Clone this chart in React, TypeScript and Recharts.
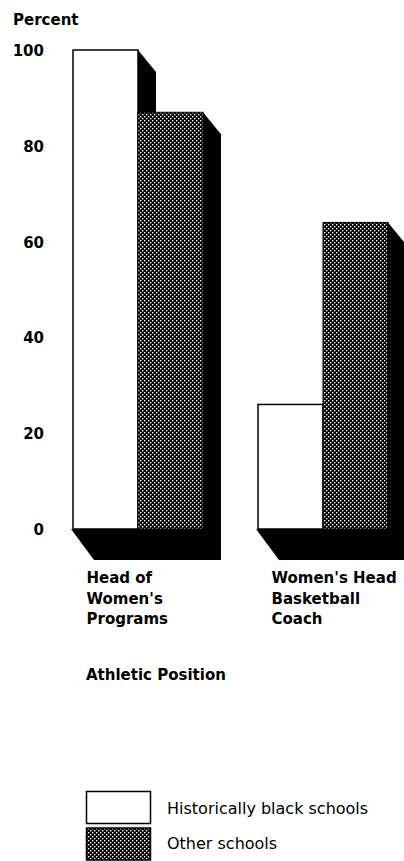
import React from 'react';
import { BarChart, Bar, XAxis, YAxis, Legend, Label } from 'recharts';

// ---- data ----
const categories = ["Head of\nWomen's\nPrograms", "Women's Head\nBasketball\nCoach"];
const historicallyBlack = [100, 26];
const otherSchools = [87, 64];
const yTicks = [0, 20, 40, 60, 80, 100];
const seriesNames = ['Historically black schools', 'Other schools'];
const yTitle = 'Percent';
const xTitle = 'Athletic Position';

const data = categories.map((c, i) => ({
  category: c,
  hbcu: historicallyBlack[i],
  other: otherSchools[i],
}));

const FONT = '"DejaVu Sans", sans-serif';

// 3D offsets
const SDX = 18;
const SDY = 22;
const FDX = 22;
const FDY = 31;

const XTick = (props: any) => {
  const { x, y, payload } = props;
  const lines = String(payload.value).split('\n');
  return (
    <g>
      {lines.map((l: string, i: number) => (
        <text key={i} x={x - 51} y={y + 54 + i * 20.5} fontFamily={FONT} fontWeight={700} fontSize={15} fill="#000" textAnchor="start">
          {l}
        </text>
      ))}
    </g>
  );
};

const YTick = (props: any) => {
  const { x, y, payload } = props;
  return (
    <text x={x} y={y + 6} fontFamily={FONT} fontWeight={700} fontSize={15} fill="#000" textAnchor="end">
      {payload.value}
    </text>
  );
};

const WhiteShape = (props: any) => {
  const { x, y, width, height } = props;
  const B = y + height;
  const R = x + width;
  const R2 = x + 2 * width;
  return (
    <g>
      <polygon points={`${x - 2},${B} ${x + FDX - 1},${B + FDY} ${R2 + SDX},${B + FDY} ${R2 + SDX},${B}`} fill="#000" />
      <polygon points={`${R},${y} ${R + SDX},${y + SDY} ${R + SDX},${B} ${R},${B}`} fill="#000" />
      <rect x={x} y={y} width={width} height={height} fill="#fff" stroke="#000" strokeWidth={1.5} />
    </g>
  );
};

const DarkShape = (props: any) => {
  const { x, y, width, height } = props;
  const B = y + height;
  const R = x + width;
  return (
    <g>
      <polygon points={`${R},${y} ${R + SDX},${y + SDY} ${R + SDX},${B + FDY} ${R},${B + FDY}`} fill="#000" />
      <rect x={x} y={y} width={width} height={height} fill="url(#dots)" stroke="#000" strokeWidth={1} />
    </g>
  );
};

const LegendContent = (props: any) => {
  const payload = props.payload || [];
  return (
    <svg width={404} height={861} style={{ position: 'absolute', left: 0, top: 0, pointerEvents: 'none' }}>
      <defs>
        <pattern id="dotsLegend" patternUnits="userSpaceOnUse" width={4} height={4}>
          <rect width={4} height={4} fill="#000" />
          <rect x={0} y={0} width={1.4} height={1.4} fill="#fff" />
          <rect x={2} y={2} width={1.4} height={1.4} fill="#fff" />
        </pattern>
      </defs>
      {payload.map((p: any, i: number) => (
        <g key={i}>
          <rect
            x={86.5}
            y={791.5 + i * 36.5}
            width={64}
            height={32}
            fill={i === 0 ? '#fff' : 'url(#dotsLegend)'}
            stroke="#000"
            strokeWidth={1.5}
          />
          <text x={167} y={814 + i * 34.5} fontFamily={FONT} fontSize={16} fill="#000">
            {p.value}
          </text>
        </g>
      ))}
    </svg>
  );
};

export default function App() {
  return (
    <div style={{ position: 'absolute', left: 0, top: 0, width: 404, height: 861, overflow: 'hidden', background: '#fff' }}>
      <BarChart
        width={415}
        height={861}
        data={data}
        margin={{ top: 50, right: 0, bottom: 232, left: 0 }}
        barGap={0}
        barSize={65}
      >
        <defs>
          <pattern id="dots" patternUnits="userSpaceOnUse" width={4} height={4}>
            <rect width={4} height={4} fill="#000" />
            <rect x={0} y={0} width={1.4} height={1.4} fill="#fff" />
            <rect x={2} y={2} width={1.4} height={1.4} fill="#fff" />
          </pattern>
        </defs>
        <XAxis
          dataKey="category"
          height={100}
          axisLine={false}
          tickLine={false}
          tickSize={0}
          tickMargin={0}
          interval={0}
          tick={<XTick />}
        >
          <Label
            content={() => (
              <text x={86} y={680} fontFamily={FONT} fontWeight={700} fontSize={15} fill="#000">
                {xTitle}
              </text>
            )}
          />
        </XAxis>
        <YAxis
          width={45}
          domain={[0, 100]}
          ticks={yTicks}
          axisLine={false}
          tickLine={false}
          tickSize={0}
          tickMargin={1}
          tick={<YTick />}
        >
          <Label
            content={() => (
              <text x={13} y={25} fontFamily={FONT} fontWeight={700} fontSize={15} fill="#000">
                {yTitle}
              </text>
            )}
          />
        </YAxis>
        <Legend
          layout="horizontal"
          verticalAlign="middle"
          align="center"
          wrapperStyle={{ left: 0, top: 0, width: 0, height: 0, margin: 0 }}
          content={<LegendContent />}
        />
        <Bar dataKey="hbcu" name={seriesNames[0]} isAnimationActive={false} shape={(p: any) => <WhiteShape {...p} />} />
        <Bar dataKey="other" name={seriesNames[1]} isAnimationActive={false} shape={(p: any) => <DarkShape {...p} />} />
      </BarChart>
    </div>
  );
}
